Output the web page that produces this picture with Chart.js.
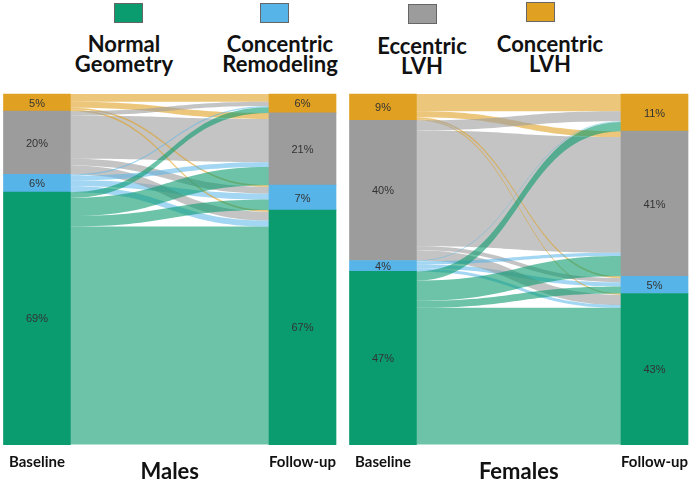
<!DOCTYPE html>
<html>
<head>
<meta charset="utf-8">
<script src="https://cdn.jsdelivr.net/npm/chart.js@4.4.1/dist/chart.umd.min.js"></script>
<style>
  body { margin: 0; background: #fff; width: 697px; height: 481px; overflow: hidden; position: relative; font-family: Lato, sans-serif; }
  .box { position: absolute; width: 27px; height: 18px; border: 1px solid #666; }
  .lab { position: absolute; width: 140px; text-align: center; font-weight: bold; font-size: 22px; line-height: 20px; color: #111; }
  canvas { position: absolute; top: 88px; }
</style>
</head>
<body>
<div class="box" style="left:114px;top:3px;background:#0A9B6E"></div>
<div class="box" style="left:260px;top:3px;background:#56B4E8"></div>
<div class="box" style="left:408px;top:4px;background:#9C9C9C"></div>
<div class="box" style="left:526px;top:2px;background:#E0A021"></div>
<div class="lab" style="left:54px;top:34px">Normal<br>Geometry</div>
<div class="lab" style="left:210px;top:34px">Concentric<br>Remodeling</div>
<div class="lab" style="left:352px;top:36px">Eccentric<br>LVH</div>
<div class="lab" style="left:480px;top:34px">Concentric<br>LVH</div>

<canvas id="males" width="345" height="393" style="left:0"></canvas>
<canvas id="females" width="352" height="393" style="left:345px"></canvas>

<script>
// Categories (bottom to top of each bar)
const stages = ["Baseline", "Follow-up"];
const groups = ["Normal Geometry", "Concentric Remodeling", "Eccentric LVH", "Concentric LVH"];
const barColors = ["#0A9B6E", "#56B4E8", "#9C9C9C", "#E0A021"];
const flowColors = ["rgba(10,155,110,0.6)", "rgba(86,180,232,0.55)", "rgba(156,156,156,0.6)", "rgba(224,160,33,0.6)"];

// Segment heights as drawn (share of bar)
const malesBaseline = [72, 5.1, 18, 4.9];
const malesFollowUp = [66.9, 7.1, 20.6, 5.4];
const femalesBaseline = [49.4, 3.1, 40, 7.5];
const femalesFollowUp = [43.1, 4.9, 41.4, 10.6];

// Printed percentages
const malesBaselineText = ["69%", "6%", "20%", "5%"];
const malesFollowUpText = ["67%", "7%", "21%", "6%"];
const femalesBaselineText = ["47%", "4%", "40%", "9%"];
const femalesFollowUpText = ["43%", "5%", "41%", "11%"];

// Transitions: row = baseline group, column = follow-up group
const malesFlows = [
    [62.2, 3, 5.2, 1.6],
    [1.7, 1.7, 1.3, 0.4],
    [2.5, 1.9, 12.4, 1.2],
    [0.5, 0.5, 1.7, 2.2]
];
const femalesFlows = [
    [39, 2, 5.8, 2.6],
    [0.8, 1.2, 0.9, 0.2],
    [2.9, 1.2, 33, 2.9],
    [0.4, 0.5, 1.7, 4.9]
];

const barW = 67;

// flows between the two bars
const flowPlugin = {
    id: "flows",
    beforeDatasetsDraw(chart, args, opts) {
        const ctx = chart.ctx;
        const x = chart.scales.x, y = chart.scales.y;
        const m = opts.matrix;
        const x0 = x.getPixelForValue(0) + barW / 2;
        const x1 = x.getPixelForValue(1) - barW / 2;
        const xm = (x0 + x1) / 2;
        const base = (arr) => arr.map((v, i) => arr.slice(0, i).reduce((a, b) => a + b, 0) + v);
        const left = chart.data.datasets.map(d => d.data[0]);
        const right = chart.data.datasets.map(d => d.data[1]);
        const outPos = base(left), inPos = base(right);
        const bands = [];
        for (let s = 3; s >= 0; s--) {
            for (let t = 3; t >= 0; t--) {
                const v = m[s][t];
                bands.push({ s, t, v, a: outPos[s] });
                outPos[s] -= v;
            }
        }
        for (let t = 3; t >= 0; t--) {
            for (let s = 3; s >= 0; s--) {
                const b = bands.find(b => b.s === s && b.t === t);
                b.b = inPos[t];
                inPos[t] -= b.v;
            }
        }
        // stays first, changes on top
        bands.sort((p, q) => (q.s === q.t) - (p.s === p.t));
        ctx.save();
        bands.forEach(b => {
            const y0t = y.getPixelForValue(b.a), y0b = y.getPixelForValue(b.a - b.v);
            const y1t = y.getPixelForValue(b.b), y1b = y.getPixelForValue(b.b - b.v);
            ctx.beginPath();
            ctx.moveTo(x0, y0t);
            ctx.bezierCurveTo(xm, y0t, xm, y1t, x1, y1t);
            ctx.lineTo(x1, y1b);
            ctx.bezierCurveTo(xm, y1b, xm, y0b, x0, y0b);
            ctx.closePath();
            ctx.fillStyle = flowColors[b.s];
            ctx.fill();
        });
        ctx.restore();
    }
};

// percent labels on the bars
const labelPlugin = {
    id: "pctLabels",
    afterDatasetsDraw(chart, args, opts) {
        const ctx = chart.ctx;
        ctx.save();
        ctx.font = "11px Arial";
        ctx.fillStyle = "#333";
        ctx.textAlign = "center";
        ctx.textBaseline = "middle";
        chart.data.datasets.forEach((ds, i) => {
            chart.getDatasetMeta(i).data.forEach((bar, j) => {
                ctx.fillText(opts.text[j][i], bar.x, (bar.y + bar.base) / 2 + 1);
            });
        });
        ctx.restore();
    }
};

function makeChart(id, title, baseline, followUp, texts, flows, padLeft, padRight) {
    return new Chart(document.getElementById(id), {
        type: "bar",
        data: {
            labels: stages,
            datasets: groups.map((g, i) => ({
                label: g,
                data: [baseline[i], followUp[i]],
                backgroundColor: barColors[i],
                barThickness: barW,
                clip: false
            }))
        },
        options: {
            responsive: false,
            animation: false,
            layout: { padding: { top: 6, left: padLeft, right: padRight, bottom: 0 } },
            plugins: {
                legend: { display: false },
                tooltip: { enabled: false },
                flows: { matrix: flows },
                pctLabels: { text: texts }
            },
            scales: {
                x: {
                    stacked: true,
                    offset: false,
                    grid: { display: false, drawTicks: false },
                    border: { display: false },
                    ticks: { padding: 9, color: "#111", font: { family: "Lato", weight: "bold", size: 15 } },
                    title: { display: true, text: title, color: "#111", padding: { top: -22, bottom: -4 },
                             font: { family: "Lato", weight: "bold", size: 22 } }
                },
                y: { stacked: true, display: false, min: 0, max: 100 }
            }
        },
        plugins: [flowPlugin, labelPlugin]
    });
}

makeChart("males", "Males", malesBaseline, malesFollowUp, [malesBaselineText, malesFollowUpText], malesFlows, 35, 38);
makeChart("females", "Females", femalesBaseline, femalesFollowUp, [femalesBaselineText, femalesFollowUpText], femalesFlows, 38, 40);
</script>
</body>
</html>
